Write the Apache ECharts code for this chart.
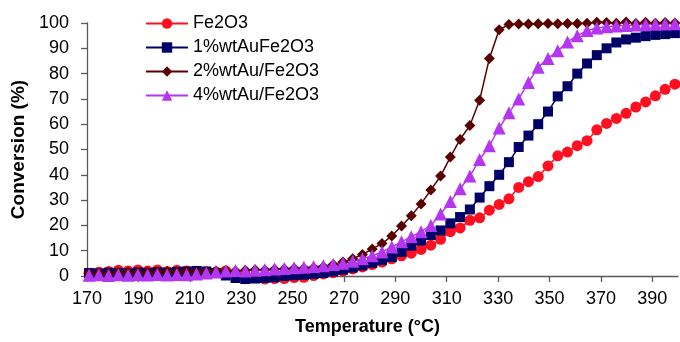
<!DOCTYPE html>
<html>
<head>
<meta charset="utf-8">
<script src="https://cdn.jsdelivr.net/npm/echarts@6/dist/echarts.min.js"></script>
<style>
html,body{margin:0;padding:0;background:#fff;}
#chart{width:680px;height:342px;}
</style>
</head>
<body>
<div id="chart"></div>
<script>
// Temperatures (°C) shared by all series
const temperatures = [170.8,174.6,178.4,182.2,186.0,189.8,193.6,197.4,201.2,205.0,208.8,212.6,216.4,220.2,224.0,227.8,231.6,235.4,239.2,243.0,246.8,250.6,254.4,258.2,262.0,265.8,269.6,273.4,277.2,281.0,284.8,288.6,292.4,296.2,300.0,303.8,307.6,311.4,315.2,319.0,322.8,326.6,330.4,334.2,338.0,341.8,345.6,349.4,353.2,357.0,360.8,364.6,368.4,372.2,376.0,379.8,383.6,387.4,391.2,395.0,398.8];

const seriesNames = ['Fe2O3', '1%wtAuFe2O3', '2%wtAu/Fe2O3', '4%wtAu/Fe2O3'];

const fe2o3 = [1.0,1.5,1.8,2.3,2.0,2.4,2.0,2.4,1.8,2.3,
  2.0,1.5,1.2,1.6,2.0,1.0,0.3,-0.5,-1.2,-1.0,
  -1.0,-0.6,-0.5,0.2,0.8,1.3,2.0,2.8,3.6,4.5,
  5.5,6.8,8.0,9.0,10.5,12.2,14.5,17.5,19.0,22.0,
  23.0,26.0,28.3,30.5,35.0,37.3,39.3,43.5,47.5,49.0,
  51.5,53.5,57.8,60.3,62.3,64.3,66.8,68.8,71.2,73.8,75.8];

const au1 = [1.2,1.0,1.3,1.2,1.0,1.4,1.2,1.5,1.3,1.6,
  1.8,2.0,1.8,1.2,0.2,-0.8,-1.2,-1.0,-0.8,-0.5,
  0.0,0.3,0.5,0.8,1.2,1.8,2.5,3.3,4.2,5.2,
  6.3,7.5,9.5,12.0,14.0,16.2,18.0,20.8,23.3,26.3,
  31.0,35.5,40.0,45.0,51.0,55.5,60.0,65.0,71.0,75.0,
  80.0,84.0,87.3,90.0,92.3,93.5,94.2,94.8,95.3,95.6,96.0];

const au2 = [1.0,1.2,1.0,1.4,1.5,1.3,1.6,1.5,1.7,1.6,
  1.8,1.7,1.8,2.0,2.2,2.0,2.3,2.5,2.4,2.7,
  2.8,3.0,3.0,3.3,3.7,4.5,5.5,6.8,8.5,10.7,
  12.8,15.8,19.8,23.8,28.5,34.0,39.5,47.0,54.0,59.5,
  69.5,86.0,97.3,99.4,99.6,99.6,99.7,99.8,99.7,99.8,
  99.8,99.9,100.3,100.2,99.9,100.4,99.8,100.3,99.9,100.2,100.0];

const au4 = [0.3,0.5,0.2,0.5,0.3,0.5,0.4,0.6,0.4,0.6,
  0.5,0.8,1.2,1.6,2.0,2.2,2.0,2.3,2.5,2.8,
  3.0,3.3,3.5,3.8,4.1,4.5,5.0,5.8,6.8,8.0,
  9.5,11.5,13.5,15.5,17.5,20.0,24.5,29.4,34.5,39.5,
  46.0,51.5,58.5,64.5,70.0,76.5,82.5,86.0,89.0,92.5,
  95.0,97.0,98.0,98.5,98.8,99.0,99.2,99.4,99.5,99.6,99.7];

const xTicks = [170,190,210,230,250,270,290,310,330,350,370,390];

const FONT = "'Liberation Sans', Arial, sans-serif";
const colors = ['#FF0F1F', '#000066', '#5A0000', '#B436F0'];
const symbols = ['circle', 'rect', 'diamond', 'triangle'];
const symbolSizes = [11, 10, 11, 13];
const values = [fe2o3, au1, au2, au4];

const chart = echarts.init(document.getElementById('chart'), null, {renderer: 'canvas'});

const series = values.map((vals, k) => ({
  name: seriesNames[k],
  type: 'line',
  data: temperatures.map((t, i) => [t, vals[i]]),
  symbol: symbols[k],
  symbolSize: symbolSizes[k],
  showAllSymbol: true,
  clip: false,
  color: colors[k],
  lineStyle: {color: colors[k], width: 1.5},
  itemStyle: {color: colors[k], borderWidth: 0},
  emphasis: {disabled: true},
  animation: false
}));

chart.setOption({
  animation: false,
  backgroundColor: '#ffffff',
  textStyle: {fontFamily: FONT},
  grid: {left: 87, right: 2, top: 23, bottom: 66, containLabel: false},
  legend: {
    orient: 'vertical',
    left: 145,
    top: 13,
    padding: 0,
    itemWidth: 42,
    itemHeight: 13,
    itemGap: 3,
    textStyle: {fontFamily: FONT, fontSize: 18, color: '#000', lineHeight: 21},
    data: seriesNames
  },
  xAxis: {
    type: 'value',
    min: 170,
    max: 400,
    interval: 20,
    name: 'Temperature (°C)',
    nameLocation: 'middle',
    nameGap: 42,
    nameTextStyle: {fontFamily: FONT, fontSize: 18, fontWeight: 'bold', color: '#000', padding: [0, 30, 0, 0]},
    axisLine: {show: true, lineStyle: {color: '#595959', width: 1.3}},
    axisTick: {show: true, length: 6, inside: false, customValues: xTicks, lineStyle: {color: '#595959', width: 1.3}},
    axisLabel: {fontFamily: FONT, fontSize: 18, color: '#000', margin: 14, customValues: xTicks},
    splitLine: {show: false}
  },
  yAxis: {
    type: 'value',
    min: 0,
    max: 100,
    interval: 10,
    name: 'Conversion (%)',
    nameLocation: 'middle',
    nameGap: 57,
    nameRotate: 90,
    nameTextStyle: {fontFamily: FONT, fontSize: 19, fontWeight: 'bold', color: '#000'},
    axisLine: {show: true, lineStyle: {color: '#595959', width: 1.3}},
    axisTick: {show: true, length: 6, inside: false, lineStyle: {color: '#595959', width: 1.3}},
    axisLabel: {fontFamily: FONT, fontSize: 18, color: '#000', margin: 18},
    splitLine: {show: false}
  },
  series: series
});
</script>
</body>
</html>
